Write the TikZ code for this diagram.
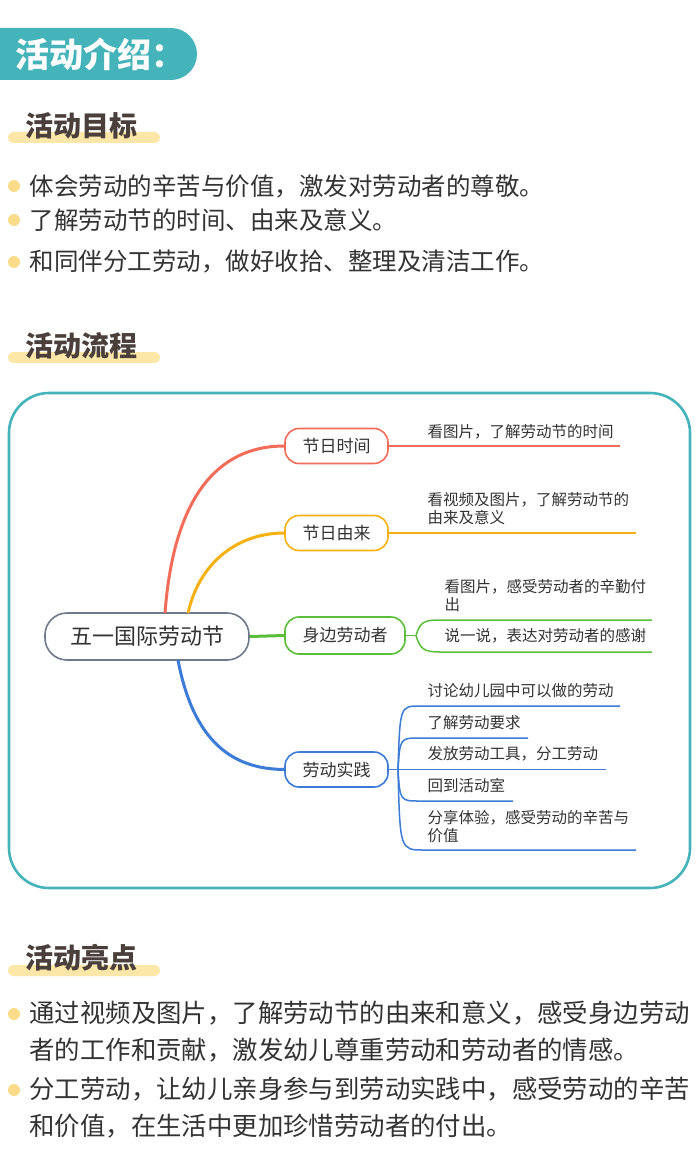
\documentclass[tikz,border=0pt]{standalone}
\usepackage{fontspec}
\setmainfont{Noto Sans CJK SC}
\definecolor{teal}{HTML}{45B3BA}
\definecolor{ttl}{HTML}{4A3F3A}
\definecolor{barcol}{HTML}{FCE6A8}
\definecolor{dot}{HTML}{F9DB8A}
\definecolor{cr}{HTML}{F26C5A}
\definecolor{co}{HTML}{F5B111}
\definecolor{cg}{HTML}{5BBE3A}
\definecolor{cb}{HTML}{3C7BD6}
\definecolor{cgray}{HTML}{6C7A8A}
\definecolor{txt}{HTML}{333333}
\begin{document}
\begin{tikzpicture}[x=1pt,y=-1pt,
  sec/.style={anchor=west,text=ttl,font=\fontsize{28}{28}\selectfont\bfseries},
  bul/.style={anchor=west,text=txt,font=\fontsize{24.5}{24.5}\selectfont},
  bul2/.style={anchor=west,text=txt,font=\fontsize{25.4}{37}\selectfont,align=left},
  br/.style={draw,line width=1.6pt,rounded corners=14pt,minimum width=103pt,minimum height=35pt,font=\fontsize{17}{17}\selectfont,text=txt},
  lf/.style={anchor=west,font=\fontsize{15.5}{18}\selectfont,text=txt,align=left},
  ln/.style={line width=1.5pt}]
\useasboundingbox (0,0) rectangle (700,1174);
\fill[white] (0,0) rectangle (700,1174);
% header
\fill[teal,rounded corners=26pt] (-30,28) rectangle (197,80);
\node[anchor=west,text=white,font=\fontsize{34}{34}\selectfont\bfseries] (hd) at (12,54) {活动介绍：};
% sections
\fill[barcol,rounded corners=5pt] (8,132) rectangle (160,143);
\node[sec] (s1) at (22,126) {活动目标};
\foreach \y/\t [count=\i] in {186/体会劳动的辛苦与价值，激发对劳动者的尊敬。,220/了解劳动节的时间、由来及意义。,262/和同伴分工劳动，做好收拾、整理及清洁工作。}{
  \fill[dot] (14,\y) circle (6pt);
  \node[bul] (b\i) at (26,\y) {\t};}
\fill[barcol,rounded corners=5pt] (8,352) rectangle (160,363);
\node[sec] (s2) at (22,346) {活动流程};
% mindmap box
\draw[teal,line width=2.6pt,rounded corners=40pt] (9,393) rectangle (690,888);
\node[draw=cgray,line width=1.6pt,rounded corners=22pt,minimum width=204pt,minimum height=47pt,font=\fontsize{22}{22}\selectfont,text=txt] (c) at (147,636.5) {五一国际劳动节};
\node[br,draw=cr] (n1) at (336.5,446) {节日时间};
\node[br,draw=co] (n2) at (336.5,533) {节日由来};
\node[br,draw=cg,minimum width=120pt,minimum height=37pt] (n3) at (345,635.5) {身边劳动者};
\node[br,draw=cb] (n4) at (336.5,769.5) {劳动实践};
\draw[cr,line width=3pt] (165,613) .. controls (175,480) and (230,446) .. (n1.west);
\draw[co,line width=3pt] (188,613) .. controls (200,560) and (240,533) .. (n2.west);
\draw[cg,line width=3pt] (c.east) -- (n3.west);
\draw[cb,line width=3pt] (178,660) .. controls (195,750) and (240,769) .. (n4.west);
% leaves
\coordinate (e1) at (620,446);
\draw[cr,ln] (n1.east) -- (e1);
\node[lf] (t1) at (424,432) {看图片，了解劳动节的时间};
\coordinate (e2) at (636,533);
\draw[co,ln] (n2.east) -- (e2);
\node[lf] (t2) at (424,509) {看视频及图片，了解劳动节的\\由来及意义};
\coordinate (g0) at (416,635.5);
\draw[cg,ln] (n3.east) -- (g0);
\coordinate (g1) at (652,620); \coordinate (g2) at (652,652);
\draw[cg,ln] (g0) .. controls (420,622) and (424,620) .. (440,620) -- (g1);
\draw[cg,ln] (g0) .. controls (420,649) and (424,652) .. (440,652) -- (g2);
\node[lf] (t3) at (441,596) {看图片，感受劳动者的辛勤付\\出};
\node[lf] (t4) at (441,636) {说一说，表达对劳动者的感谢};
\coordinate (f0) at (398,769.5);
\draw[cb,ln] (n4.east) -- (f0);
\foreach \y/\e/\t [count=\i] in {706/620/讨论幼儿园中可以做的劳动,738/528/了解劳动要求,801/513/回到活动室}{
  \coordinate (bl\i) at (\e,\y);
  \draw[cb,ln] (f0) .. controls (400,\y) .. (420,\y) -- (bl\i);
  \node[lf] (bt\i) at (424,\y-15) {\t};}
\coordinate (bl4) at (606,769.5);
\draw[cb,ln] (f0) -- (bl4);
\node[lf] (bt4) at (424,754) {发放劳动工具，分工劳动};
\coordinate (bl5) at (636,850);
\draw[cb,ln] (f0) .. controls (400,850) .. (424,850) -- (bl5);
\node[lf] (bt5) at (424,827) {分享体验，感受劳动的辛苦与\\价值};
% highlights
\fill[barcol,rounded corners=5pt] (8,965) rectangle (160,976);
\node[sec] (s3) at (22,958) {活动亮点};
\fill[dot] (14,1014) circle (6pt);
\node[bul2,anchor=north west] (h1) at (26,997) {通过视频及图片，了解劳动节的由来和意义，感受身边劳动\\者的工作和贡献，激发幼儿尊重劳动和劳动者的情感。};
\fill[dot] (14,1090) circle (6pt);
\node[bul2,anchor=north west] (h2) at (26,1073) {分工劳动，让幼儿亲身参与到劳动实践中，感受劳动的辛苦\\和价值，在生活中更加珍惜劳动者的付出。};
\end{tikzpicture}
\end{document}
